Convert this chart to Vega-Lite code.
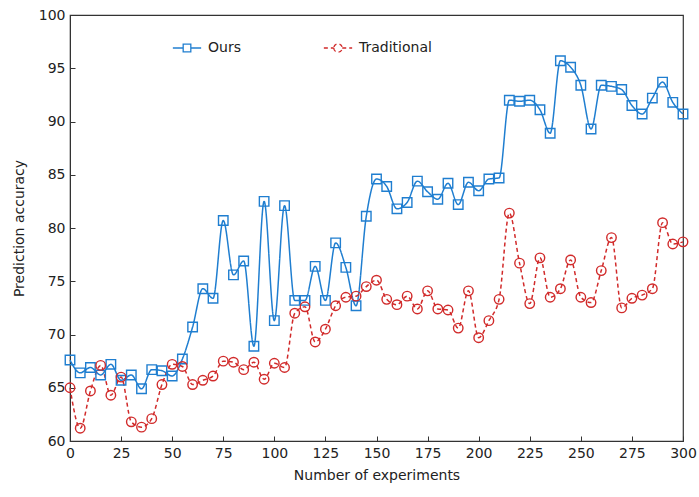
{
  "$schema": "https://vega.github.io/schema/vega-lite/v6.json",
  "width": 613,
  "height": 426,
  "autosize": {"type": "none"},
  "padding": {"left": 70, "top": 15, "right": 16, "bottom": 56},
  "background": "white",
  "config": {
    "view": {"stroke": "#333333", "strokeWidth": 1.2},
    "font": "DejaVu Sans",
    "axis": {"labelFont": "DejaVu Sans", "titleFont": "DejaVu Sans", "labelFontSize": 14, "titleFontSize": 14, "titleFontWeight": "normal", "labelColor": "#222", "titleColor": "#222", "grid": false, "tickSize": -5, "tickColor": "#333", "domainColor": "#333", "labelPadding": 10, "labelFlush": false}
  },
  "datasets": {
    "main": [
      {"x":0,"s":"Ours","y":67.6},{"x":5,"s":"Ours","y":66.4},{"x":10,"s":"Ours","y":66.9},{"x":15,"s":"Ours","y":66.2},{"x":20,"s":"Ours","y":67.2},{"x":25,"s":"Ours","y":65.7},{"x":30,"s":"Ours","y":66.2},{"x":35,"s":"Ours","y":64.9},{"x":40,"s":"Ours","y":66.7},{"x":45,"s":"Ours","y":66.6},{"x":50,"s":"Ours","y":66.1},{"x":55,"s":"Ours","y":67.7},{"x":60,"s":"Ours","y":70.7},{"x":65,"s":"Ours","y":74.3},{"x":70,"s":"Ours","y":73.4},{"x":75,"s":"Ours","y":80.7},{"x":80,"s":"Ours","y":75.6},{"x":85,"s":"Ours","y":76.9},{"x":90,"s":"Ours","y":68.9},{"x":95,"s":"Ours","y":82.5},{"x":100,"s":"Ours","y":71.3},{"x":105,"s":"Ours","y":82.1},{"x":110,"s":"Ours","y":73.2},{"x":115,"s":"Ours","y":73.2},{"x":120,"s":"Ours","y":76.4},{"x":125,"s":"Ours","y":73.2},{"x":130,"s":"Ours","y":78.6},{"x":135,"s":"Ours","y":76.3},{"x":140,"s":"Ours","y":72.7},{"x":145,"s":"Ours","y":81.1},{"x":150,"s":"Ours","y":84.6},{"x":155,"s":"Ours","y":83.9},{"x":160,"s":"Ours","y":81.8},{"x":165,"s":"Ours","y":82.4},{"x":170,"s":"Ours","y":84.4},{"x":175,"s":"Ours","y":83.4},{"x":180,"s":"Ours","y":82.7},{"x":185,"s":"Ours","y":84.2},{"x":190,"s":"Ours","y":82.2},{"x":195,"s":"Ours","y":84.3},{"x":200,"s":"Ours","y":83.5},{"x":205,"s":"Ours","y":84.6},{"x":210,"s":"Ours","y":84.7},{"x":215,"s":"Ours","y":92.0},{"x":220,"s":"Ours","y":91.9},{"x":225,"s":"Ours","y":92.0},{"x":230,"s":"Ours","y":91.1},{"x":235,"s":"Ours","y":88.9},{"x":240,"s":"Ours","y":95.7},{"x":245,"s":"Ours","y":95.1},{"x":250,"s":"Ours","y":93.4},{"x":255,"s":"Ours","y":89.3},{"x":260,"s":"Ours","y":93.4},{"x":265,"s":"Ours","y":93.3},{"x":270,"s":"Ours","y":93.0},{"x":275,"s":"Ours","y":91.5},{"x":280,"s":"Ours","y":90.7},{"x":285,"s":"Ours","y":92.2},{"x":290,"s":"Ours","y":93.7},{"x":295,"s":"Ours","y":91.8},{"x":300,"s":"Ours","y":90.7},
      {"x":0,"s":"Traditional","y":65.0},{"x":5,"s":"Traditional","y":61.2},{"x":10,"s":"Traditional","y":64.7},{"x":15,"s":"Traditional","y":67.1},{"x":20,"s":"Traditional","y":64.3},{"x":25,"s":"Traditional","y":66.0},{"x":30,"s":"Traditional","y":61.8},{"x":35,"s":"Traditional","y":61.3},{"x":40,"s":"Traditional","y":62.1},{"x":45,"s":"Traditional","y":65.3},{"x":50,"s":"Traditional","y":67.2},{"x":55,"s":"Traditional","y":67.0},{"x":60,"s":"Traditional","y":65.3},{"x":65,"s":"Traditional","y":65.7},{"x":70,"s":"Traditional","y":66.1},{"x":75,"s":"Traditional","y":67.5},{"x":80,"s":"Traditional","y":67.4},{"x":85,"s":"Traditional","y":66.7},{"x":90,"s":"Traditional","y":67.4},{"x":95,"s":"Traditional","y":65.8},{"x":100,"s":"Traditional","y":67.3},{"x":105,"s":"Traditional","y":66.9},{"x":110,"s":"Traditional","y":72.0},{"x":115,"s":"Traditional","y":72.6},{"x":120,"s":"Traditional","y":69.3},{"x":125,"s":"Traditional","y":70.5},{"x":130,"s":"Traditional","y":72.7},{"x":135,"s":"Traditional","y":73.5},{"x":140,"s":"Traditional","y":73.6},{"x":145,"s":"Traditional","y":74.5},{"x":150,"s":"Traditional","y":75.1},{"x":155,"s":"Traditional","y":73.3},{"x":160,"s":"Traditional","y":72.8},{"x":165,"s":"Traditional","y":73.6},{"x":170,"s":"Traditional","y":72.4},{"x":175,"s":"Traditional","y":74.1},{"x":180,"s":"Traditional","y":72.4},{"x":185,"s":"Traditional","y":72.3},{"x":190,"s":"Traditional","y":70.6},{"x":195,"s":"Traditional","y":74.1},{"x":200,"s":"Traditional","y":69.7},{"x":205,"s":"Traditional","y":71.3},{"x":210,"s":"Traditional","y":73.3},{"x":215,"s":"Traditional","y":81.4},{"x":220,"s":"Traditional","y":76.7},{"x":225,"s":"Traditional","y":72.9},{"x":230,"s":"Traditional","y":77.2},{"x":235,"s":"Traditional","y":73.5},{"x":240,"s":"Traditional","y":74.3},{"x":245,"s":"Traditional","y":77.0},{"x":250,"s":"Traditional","y":73.5},{"x":255,"s":"Traditional","y":73.0},{"x":260,"s":"Traditional","y":76.0},{"x":265,"s":"Traditional","y":79.1},{"x":270,"s":"Traditional","y":72.5},{"x":275,"s":"Traditional","y":73.4},{"x":280,"s":"Traditional","y":73.7},{"x":285,"s":"Traditional","y":74.3},{"x":290,"s":"Traditional","y":80.5},{"x":295,"s":"Traditional","y":78.5},{"x":300,"s":"Traditional","y":78.7}
    ]
  },
  "data": {"name": "main"},
  "encoding": {
    "x": {"field": "x", "type": "quantitative", "title": "Number of experiments", "scale": {"domain": [0, 300], "nice": false}, "axis": {"values": [0,25,50,75,100,125,150,175,200,225,250,275,300], "titlePadding": 8}},
    "y": {"field": "y", "type": "quantitative", "title": "Prediction accuracy", "scale": {"domain": [60, 100], "nice": false, "zero": false}, "axis": {"values": [60,65,70,75,80,85,90,95,100], "titlePadding": 12}},
    "color": {"field": "s", "type": "nominal", "scale": {"domain": ["Ours", "Traditional"], "range": ["#1f7ed0", "#d12a2a"]},
      "legend": {"orient": "none", "legendX": 102, "legendY": 18, "direction": "horizontal", "title": null, "labelFontSize": 14, "labelFont": "DejaVu Sans", "labelColor": "#222", "symbolSize": 800, "symbolStrokeWidth": 1.3, "columnPadding": 80, "labelOffset": 6,
        "encode": {"symbols": {
          "enter": {
            "shape": {"signal": "datum.value === 'Ours' ? 'M-1,0H-0.27M0.27,0H1M-0.27,-0.27H0.27V0.27H-0.27Z' : 'M-1,0H-0.3M0.3,0H1M-0.3,0A0.3,0.3 0 1,0 0.3,0A0.3,0.3 0 1,0 -0.3,0'"},
            "strokeDash": {"signal": "datum.value === 'Ours' ? [1,0] : [3,2]"},
            "fill": {"value": "transparent"}
          },
          "update": {
            "shape": {"signal": "datum.value === 'Ours' ? 'M-1,0H-0.27M0.27,0H1M-0.27,-0.27H0.27V0.27H-0.27Z' : 'M-1,0H-0.3M0.3,0H1M-0.3,0A0.3,0.3 0 1,0 0.3,0A0.3,0.3 0 1,0 -0.3,0'"},
            "strokeDash": {"signal": "datum.value === 'Ours' ? [1,0] : [3,2]"},
            "fill": {"value": "transparent"}
          }
        }}}}
  },
  "layer": [
    {
      "mark": {"type": "line", "interpolate": "monotone", "strokeWidth": 1.5},
      "encoding": {
        "strokeDash": {"field": "s", "type": "nominal", "scale": {"domain": ["Ours", "Traditional"], "range": [[1, 0], [4, 3]]}, "legend": null}
      }
    },
    {
      "transform": [{"filter": "datum.s === 'Ours'"}],
      "mark": {"type": "point", "shape": "square", "filled": false, "size": 90, "strokeWidth": 1.4, "opacity": 1}
    },
    {
      "transform": [{"filter": "datum.s === 'Traditional'"}],
      "mark": {"type": "point", "shape": "circle", "filled": false, "size": 90, "strokeWidth": 1.4, "opacity": 1}
    }
  ]
}
